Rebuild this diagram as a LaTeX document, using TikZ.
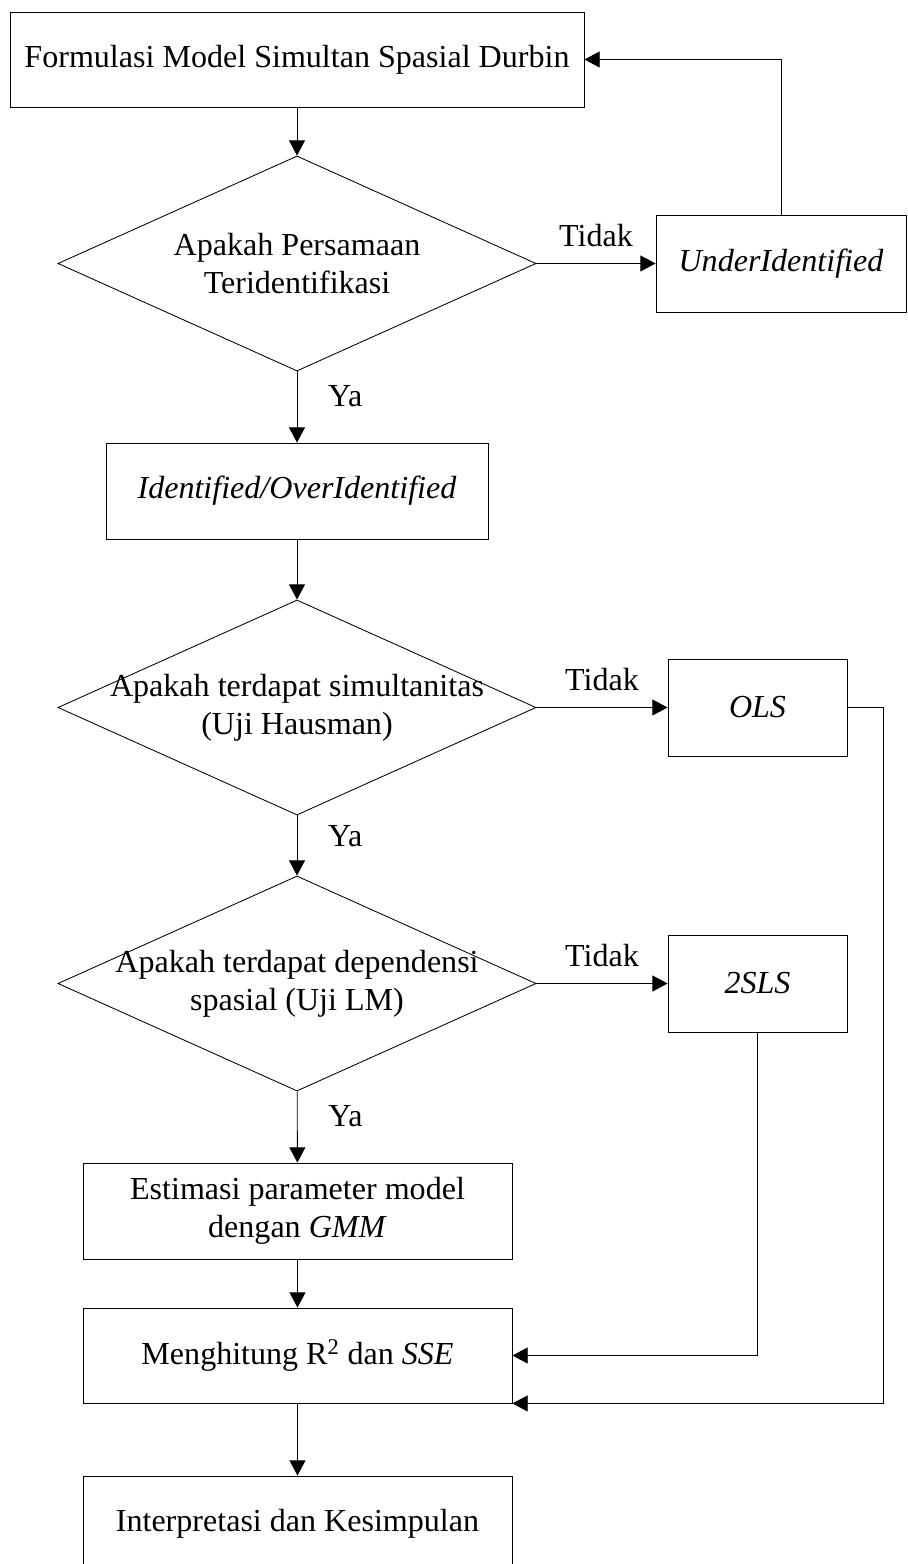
\documentclass[tikz,border=0pt]{standalone}
\usepackage{fontspec}
\setmainfont{Liberation Serif}
\usetikzlibrary{shapes.geometric,arrows.meta}
\begin{document}
\begin{tikzpicture}[x=0.025cm,y=-0.025cm,line width=0.6pt,
  every node/.style={font=\fontsize{22.8}{27}\selectfont},
  kotak/.style={draw,rectangle,inner sep=0pt,align=center},
  belah/.style={draw,diamond,inner sep=0pt,minimum width=11.95cm,minimum height=5.375cm},
  panah/.style={-{Triangle[length=0.38cm,width=0.4cm]}}]
\useasboundingbox (0,0) rectangle (907,1564);
% kotak dan belah ketupat
\node[kotak,minimum width=14.35cm,minimum height=2.375cm] (form) at (297,59.5) {Formulasi Model Simultan Spasial Durbin};
\node[belah] (d1) at (297,263.5) {};
\node[align=center] at (d1) {Apakah Persamaan\\Teridentifikasi};
\node[kotak,minimum width=6.25cm,minimum height=2.425cm] (under) at (781,263.5) {\textit{UnderIdentified}};
\node[kotak,minimum width=9.55cm,minimum height=2.4cm] (ident) at (297,491) {\textit{Identified/OverIdentified}};
\node[belah] (d2) at (297,707.5) {};
\node[align=center] at (d2) {Apakah terdapat simultanitas\\(Uji Hausman)};
\node[kotak,minimum width=4.475cm,minimum height=2.425cm] (ols) at (757.5,707.5) {\textit{OLS}};
\node[belah] (d3) at (297,983.5) {};
\node[align=center] at (d3) {Apakah terdapat dependensi\\spasial (Uji LM)};
\node[kotak,minimum width=4.475cm,minimum height=2.425cm] (sls) at (757.5,983.5) {\textit{2SLS}};
\node[kotak,minimum width=10.725cm,minimum height=2.4cm] (est) at (297.5,1211) {Estimasi parameter model\\dengan \textit{GMM}};
\node[kotak,minimum width=10.725cm,minimum height=2.375cm] (mengh) at (297.5,1355.5) {Menghitung R\textsuperscript{2} dan \textit{SSE}};
\node[kotak,minimum width=10.725cm,minimum height=2.375cm] (interp) at (297.5,1523.5) {Interpretasi dan Kesimpulan};
\coordinate (rel) at (883,0);
% panah
\draw[panah] (form) -- (d1);
\foreach \a/\b in {d1/under,d2/ols,d3/sls}
  \draw[panah] (\a) -- node[above=0.3cm] {Tidak} (\b);
\foreach \a/\b in {d1/ident,d2/d3,d3/est}
  \draw[panah] (\a) -- node[pos=0.35,right=0.65cm] {Ya} (\b);
\draw[panah] (under.north) |- (form.east);
\draw[panah] (ident) -- (d2);
\draw[panah] (est) -- (mengh);
\draw[panah] (sls.south) |- (mengh.east);
\draw[panah] (ols.east) -| (rel |- mengh.south east) -- (mengh.south east);
\draw[panah] (mengh) -- (interp);
\end{tikzpicture}
\end{document}
